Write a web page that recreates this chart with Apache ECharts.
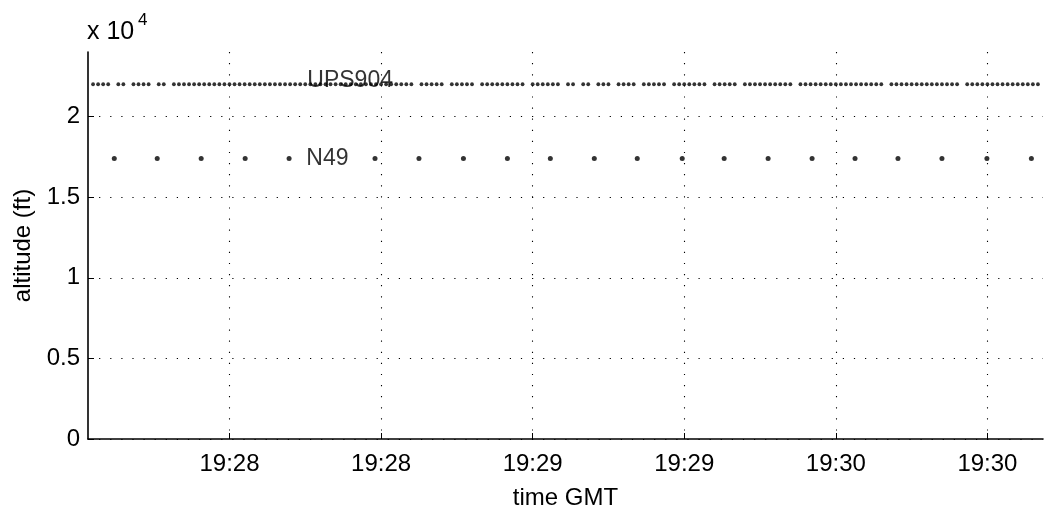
<!DOCTYPE html>
<html>
<head>
<meta charset="utf-8">
<title>altitude vs time GMT</title>
<script src="https://cdn.jsdelivr.net/npm/echarts@6/dist/echarts.min.js"></script>
<style>
  html, body { margin: 0; padding: 0; background: #fff; }
  #chart { width: 1045px; height: 513px; }
</style>
</head>
<body>
<div id="chart"></div>
<script>
// Time is in seconds after 19:28:00 GMT.
const axisStart = -28;
const axisEnd = 161;
const timeTicks = [0, 30, 60, 90, 120, 150];
const timeTickLabels = ['19:28', '19:28', '19:29', '19:29', '19:30', '19:30'];
const altitudeTicks = [0, 5000, 10000, 15000, 20000];
const altitudeTickLabels = ['0', '0.5', '1', '1.5', '2'];

// UPS904 track reports (seconds), altitude in ft
const ups904Times = [
  -27, -26, -25, -24,
  -22, -21,
  -19, -18, -17, -16,
  -14, -13,
  -11, -10, -9, -8, -7, -6, -5, -4, -3, -2, -1, 0, 1, 2, 3, 4, 5, 6, 7, 8, 9, 10,
  11, 12, 13, 14, 15, 16, 17, 18, 19, 20, 21, 22, 23, 24, 25, 26, 27, 28, 29, 30,
  31, 32, 33, 34, 35, 36,
  38, 39, 40, 41, 42,
  44, 45, 46, 47, 48,
  50, 51, 52, 53, 54, 55, 56, 57, 58,
  60, 61, 62, 63, 64, 65,
  67, 68,
  70, 71,
  73, 74, 75,
  77, 78, 79, 80,
  82, 83, 84, 85, 86,
  88, 89, 90, 91, 92, 93, 94,
  96, 97, 98, 99, 100,
  102, 103, 104, 105, 106, 107, 108, 109, 110, 111,
  113, 114, 115, 116, 117, 118, 119, 120, 121, 122, 123, 124, 125, 126, 127, 128, 129,
  131, 132, 133, 134, 135, 136, 137, 138, 139, 140, 141, 142, 143, 144,
  146, 147, 148, 149, 150, 151, 152, 153, 154, 155, 156, 157, 158, 159, 160
];
const ups904Altitude = 22000;

// N49 track reports (seconds), altitude in ft
const n49Times = [
  -22.8, -14.3, -5.6, 3.1, 11.8, 28.8, 37.5, 46.3, 55.0, 63.5, 72.2,
  80.7, 89.6, 97.9, 106.6, 115.3, 123.8, 132.3, 141.0, 149.9, 158.7
];
const n49Altitude = 17400;

// Track name tags: [time, altitude, text]
const trackTags = [
  [15.4, 22230, 'UPS904'],
  [15.2, 17400, 'N49']
];

const FONT = 'Liberation Sans, Arial, Helvetica, sans-serif';
const FS = 24;

const dotted = { color: '#000', width: 1.1, type: [1.2, 9.9] };

const chart = echarts.init(document.getElementById('chart'), null, { renderer: 'canvas' });

chart.setOption({
  animation: false,
  backgroundColor: '#fff',
  grid: { left: 88, right: 2, top: 52, bottom: 74, containLabel: false, outerBoundsMode: 'none' },
  xAxis: {
    type: 'value',
    min: axisStart,
    max: axisEnd,
    name: 'time GMT',
    nameLocation: 'middle',
    nameGap: 47,
    nameTextStyle: { color: '#000', fontFamily: FONT, fontSize: FS },
    axisLine: { show: true, onZero: false, lineStyle: { color: '#000', width: 1.6 } },
    axisTick: { show: true, inside: true, length: 6, customValues: timeTicks, lineStyle: { color: '#000', width: 1 } },
    axisLabel: {
      show: true, customValues: timeTicks, margin: 13,
      color: '#000', fontFamily: FONT, fontSize: FS,
      formatter: function (v) { return timeTickLabels[timeTicks.indexOf(v)]; }
    },
    splitLine: { show: true, lineStyle: dotted }
  },
  yAxis: {
    type: 'value',
    min: 0,
    max: 24000,
    name: 'altitude (ft)',
    nameLocation: 'middle',
    nameGap: 53,
    nameRotate: 90,
    nameTextStyle: { color: '#000', fontFamily: FONT, fontSize: FS },
    axisLine: { show: true, onZero: false, lineStyle: { color: '#000', width: 1.6 } },
    axisTick: { show: true, inside: true, length: 6, customValues: altitudeTicks, lineStyle: { color: '#000', width: 1 } },
    axisLabel: {
      show: true, customValues: altitudeTicks, margin: 8,
      color: '#000', fontFamily: FONT, fontSize: FS,
      formatter: function (v) { return altitudeTickLabels[altitudeTicks.indexOf(v)]; }
    },
    splitLine: { show: true, lineStyle: dotted }
  },
  graphic: [
    { type: 'text', left: 87, top: 20, style: { text: 'x 10', font: '25px ' + FONT, fill: '#000' } },
    { type: 'text', left: 138, top: 12, style: { text: '4', font: '17px ' + FONT, fill: '#000' } }
  ],
  series: [
    {
      name: 'UPS904',
      type: 'scatter',
      symbol: 'circle',
      symbolSize: 3.8,
      itemStyle: { color: '#000' },
      data: ups904Times.map(t => [t, ups904Altitude]),
      z: 3
    },
    {
      name: 'N49',
      type: 'scatter',
      symbol: 'circle',
      symbolSize: 5,
      itemStyle: { color: '#000' },
      data: n49Times.map(t => [t, n49Altitude]),
      z: 3
    },
    {
      name: 'tags',
      type: 'scatter',
      symbolSize: 0,
      silent: true,
      data: trackTags.map(d => ({ value: [d[0], d[1]], name: d[2] })),
      label: {
        show: true, position: 'right', distance: 0,
        formatter: p => p.name,
        color: '#000', fontFamily: FONT, fontSize: 23
      },
      z: 4
    }
  ]
});
</script>
</body>
</html>
